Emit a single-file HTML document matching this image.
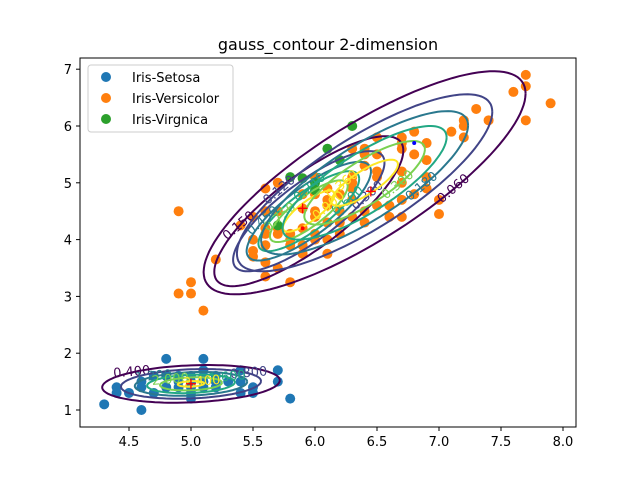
<!DOCTYPE html>
<html><head><meta charset="utf-8"><style>
body{margin:0;background:#fff;}
svg text{font-family:"DejaVu Sans","Liberation Sans",sans-serif;}
</style></head><body>
<svg id="chart" width="640" height="480" xmlns="http://www.w3.org/2000/svg">
<defs><clipPath id="clip"><rect x="80" y="58" width="496" height="369"/></clipPath></defs>
<rect width="640" height="480" fill="#fff"/>
<text x="328" y="50" font-size="16" text-anchor="middle">gauss_contour 2-dimension</text>
<g id="plot" clip-path="url(#clip)"></g>
<g id="axes"></g>
<g id="legend">
<rect x="88" y="65" width="145" height="67" rx="3" fill="#fff" fill-opacity="0.8" stroke="#ccc"/>
<circle cx="106" cy="77" r="5" fill="#1f77b4"/><text x="132" y="82" font-size="13">Iris-Setosa</text>
<circle cx="106" cy="98" r="5" fill="#ff7f0e"/><text x="132" y="103" font-size="13">Iris-Versicolor</text>
<circle cx="106" cy="119" r="5" fill="#2ca02c"/><text x="132" y="124" font-size="13">Iris-Virgnica</text>
</g>
</svg>
<script>
const xTicks=[4.5,5.0,5.5,6.0,6.5,7.0,7.5,8.0];
const yTicks=[1,2,3,4,5,6,7];
const setosa=[[5.1,1.4],[4.9,1.4],[4.7,1.3],[4.6,1.5],[5.0,1.4],[5.4,1.7],[4.6,1.4],[5.0,1.5],[4.4,1.4],[4.9,1.5],[5.4,1.5],[4.8,1.6],[4.8,1.4],[4.3,1.1],[5.8,1.2],[5.7,1.5],[5.4,1.3],[5.7,1.7],[5.1,1.5],[5.1,1.7],[4.6,1.0],[4.8,1.9],[5.0,1.6],[5.2,1.5],[5.2,1.4],[4.7,1.6],[5.5,1.4],[5.0,1.2],[5.5,1.3],[4.4,1.3],[5.0,1.3],[4.5,1.3],[5.1,1.9],[5.1,1.6],[5.3,1.5],[4.9,1.6],[5.2,1.6]];
const versicolor=[[7.0,4.7],[6.4,4.5],[6.9,4.9],[5.5,4.0],[6.5,4.6],[5.7,4.5],[6.3,4.7],[4.9,3.05],[6.6,4.6],[5.2,3.65],[5.0,3.05],[5.9,4.2],[6.0,4.0],[6.1,4.7],[5.6,3.6],[6.7,4.4],[5.6,4.5],[5.8,4.1],[6.2,4.5],[5.6,3.9],[5.9,4.8],[6.1,4.0],[6.3,4.9],[6.4,4.3],[6.6,4.4],[6.8,4.8],[6.7,5.0],[6.0,4.5],[5.7,3.5],[5.5,3.8],[5.5,3.7],[5.8,3.9],[6.0,5.1],[5.4,4.25],[6.7,4.7],[6.3,4.4],[5.6,4.1],[5.5,4.4],[6.1,4.6],[5.8,4.0],[5.0,3.25],[5.6,4.2],[5.7,4.2],[6.2,4.3],[5.1,2.75],[5.7,4.1],[5.8,3.25],[6.1,3.75],[5.6,3.35],[5.9,3.75],
[7.1,5.9],[6.3,5.6],[6.5,5.8],[7.6,6.6],[4.9,4.5],[7.3,6.3],[6.7,5.8],[7.2,6.1],[6.5,5.1],[6.4,5.3],[6.8,5.5],[5.7,5.0],[6.5,5.5],[7.7,6.7],[7.7,6.9],[6.9,5.7],[5.6,4.9],[6.7,5.7],[7.2,6.0],[6.2,4.8],[6.1,4.9],[6.4,5.6],[7.2,5.8],[7.4,6.1],[7.9,6.4],[6.3,5.1],[7.7,6.1],[6.4,5.5],[6.0,4.8],[6.9,5.4],[6.7,5.6],[6.9,5.1],[6.8,5.9],[6.7,5.2],[6.3,5.0],[6.5,5.2],[7.0,4.45],[6.0,4.4],[5.9,4.55],[6.1,4.3],[6.2,4.1],[6.0,4.1],[5.9,3.9]];
const virgnica=[[6.3,6.0],[6.1,5.6],[6.2,5.4],[5.8,5.1],[5.9,5.08],[6.0,5.0],[6.0,4.87],[5.7,4.25]];
const gaussMeans=[[5.0,1.46],[5.95,4.5],[6.4,5.0]];
const gaussCovs=[[0.14,0.012,0.03],[0.15,0.21,0.45],[0.45,0.545,1.03]];
const levelsSetosa=[0.4,0.8,1.2,1.6,2.0,2.4];
const levelsVersicolor=[0.15,0.3,0.45,0.6,0.75,0.9];
const levelsVirgnica=[0.06,0.12,0.18,0.24,0.3,0.36];
const colors=['#440154','#414487','#2a788e','#22a884','#7ad151','#fde725'];
const NS='http://www.w3.org/2000/svg';
const X=v=>129+(v-4.5)*124;
const Y=v=>410-(v-1)*56.8;
const plot=document.getElementById('plot');
const axes=document.getElementById('axes');
function mk(tag,attrs,parent){const e=document.createElementNS(NS,tag);for(const k in attrs)e.setAttribute(k,attrs[k]);parent.appendChild(e);return e;}
function scatter(data,color,name){data.forEach(p=>{const c=mk('circle',{cx:X(p[0]),cy:Y(p[1]),r:5,fill:color},plot);

});}
scatter(setosa,'#1f77b4','setosa-point');
scatter(versicolor,'#ff7f0e','versicolor-point');
scatter(virgnica,'#2ca02c','virgnica-point');
const allLevels=[levelsSetosa,levelsVersicolor,levelsVirgnica];
const labelT=[[2.3,0.6],[2.4,5.6],[5.3,2.3]];
gaussMeans.forEach((m,gi)=>{const [sxx,sxy,syy]=gaussCovs[gi];
const det=sxx*syy-sxy*sxy;const peak=1/(2*Math.PI*Math.sqrt(det));
const a=Math.sqrt(sxx),b=sxy/a,c=Math.sqrt(syy-b*b);
allLevels[gi].forEach((lv,li)=>{if(lv>=peak)return;const r=Math.sqrt(-2*Math.log(lv/peak));
let d='';for(let i=0;i<=120;i++){const t=i/120*2*Math.PI;const u=r*Math.cos(t),v=r*Math.sin(t);
const px=X(m[0]+a*u),py=Y(m[1]+b*u+c*v);d+=(i?'L':'M')+px.toFixed(1)+','+py.toFixed(1);}
const p=mk('path',{d:d,fill:'none',stroke:colors[li],'stroke-width':2},plot);


const t=labelT[gi][li%2];const u=r*Math.cos(t),v=r*Math.sin(t);
const lx=X(m[0]+a*u),ly=Y(m[1]+b*u+c*v);
const ang=gi==0?-5:-40;
const tx=mk('text',{x:lx,y:ly,'font-size':13,fill:colors[li],'text-anchor':'middle','dominant-baseline':'middle',transform:`rotate(${ang} ${lx} ${ly})`},plot);


tx.textContent=lv.toFixed(3);});});
[[5.0,1.46],[5.9,4.55],[6.45,4.85]].forEach(p=>{const g=mk('text',{x:X(p[0]),y:Y(p[1])+5,'font-size':16,fill:'red','text-anchor':'middle'},plot);g.textContent='+';

});
mk('circle',{cx:X(6.8),cy:Y(5.7),r:2,fill:'blue'},plot);
mk('circle',{cx:X(5.9),cy:Y(4.2),r:2,fill:'red'},plot);
const fr=mk('rect',{x:80,y:58,width:496,height:369,fill:'none',stroke:'#000','stroke-width':1},axes);


xTicks.forEach(v=>{mk('line',{x1:X(v),x2:X(v),y1:427,y2:431,stroke:'#000'},axes);
const t=mk('text',{x:X(v),y:446,'font-size':13,'text-anchor':'middle'},axes);t.textContent=v.toFixed(1);

});
yTicks.forEach(v=>{mk('line',{x1:76,x2:80,y1:Y(v),y2:Y(v),stroke:'#000'},axes);
const t=mk('text',{x:72,y:Y(v)+5,'font-size':13,'text-anchor':'end'},axes);t.textContent=v;

});
</script>
</body></html>
